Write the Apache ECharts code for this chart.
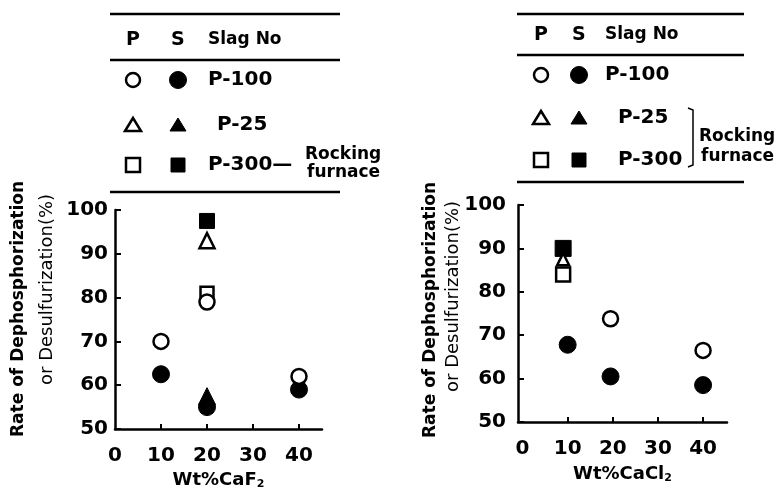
<!DOCTYPE html>
<html>
<head>
<meta charset="utf-8">
<script src="https://cdn.jsdelivr.net/npm/echarts@6/dist/echarts.min.js"></script>
<style>
  html, body { margin: 0; padding: 0; background: #fff; }
  #chart { width: 783px; height: 488px; }
</style>
</head>
<body>
<div id="chart"></div>
<script>
  // tick labels
  const xTickValues = [0, 10, 20, 30, 40];
  const xTickMarks = [10, 20, 30, 40];

  // left panel: Wt% CaF2   (P = open symbol, S = filled symbol)
  const caf2P100P = [[10, 70], [20, 79], [40, 62]];
  const caf2P100S = [[10, 62.5], [20, 55], [40, 59]];
  const caf2P25P = [[20, 93]];
  const caf2P25S = [[20, 57.5]];
  const caf2P300P = [[20, 81]];
  const caf2P300S = [[20, 97.5]];

  // right panel: Wt% CaCl2
  const cacl2P100P = [[19.5, 73.8], [40, 66.5]];
  const cacl2P100S = [[10, 67.8], [19.5, 60.5], [40, 58.5]];
  const cacl2P25P = [[9, 87.5]];
  const cacl2P300P = [[9, 84]];
  const cacl2P300S = [[9, 90]];

  const FONT = 'DejaVu Sans';
  const INK = '#000';

  const myChart = echarts.init(document.getElementById('chart'));

  const xAxisBase = (idx, min, max, nameText, nameGap) => ({
    type: 'value',
    gridIndex: idx,
    min: min,
    max: max,
    name: nameText,
    nameLocation: 'middle',
    nameGap: nameGap,
    nameTextStyle: {
      color: INK, fontFamily: FONT, fontWeight: 'bold', fontSize: 18,
      rich: { sub: { color: INK, fontFamily: FONT, fontWeight: 'bold', fontSize: 11, padding: [8, 0, 0, 0] } },
    },
    splitLine: { show: false },
    axisLine: { show: true, onZero: false, lineStyle: { color: INK, width: 2.5 } },
    axisTick: { show: true, inside: true, length: 5, customValues: xTickMarks, lineStyle: { color: INK, width: 2 } },
    axisLabel: { color: INK, fontFamily: FONT, fontWeight: 'bold', fontSize: 20, margin: 17, customValues: xTickValues },
  });

  const yAxisBase = (idx, margin) => ({
    type: 'value',
    gridIndex: idx,
    min: 50,
    max: 100,
    interval: 10,
    splitLine: { show: false },
    axisLine: { show: true, onZero: false, lineStyle: { color: INK, width: 2.5 } },
    axisTick: { show: true, inside: true, length: 6, lineStyle: { color: INK, width: 2 } },
    axisLabel: { color: INK, fontFamily: FONT, fontWeight: 'bold', fontSize: 20, margin: margin },
  });

  const openStyle = { color: '#fff', borderColor: INK, borderWidth: 2.5, opacity: 1 };
  const fillStyle = { color: INK, borderColor: INK, borderWidth: 1, opacity: 1 };

  const scatter = (idx, data, symbol, size, style) => ({
    type: 'scatter',
    xAxisIndex: idx,
    yAxisIndex: idx,
    data: data,
    symbol: symbol,
    symbolSize: size,
    itemStyle: style,
    emphasis: { disabled: true },
    silent: true,
  });

  // legend table drawn as graphic
  const legendBlock = (o) => {
    const els = [];
    const line = (y) => ({
      type: 'line',
      shape: { x1: o.x1, y1: y, x2: o.x2, y2: y },
      style: { stroke: INK, lineWidth: 2.5 },
    });
    const text = (x, y, t, size) => ({
      type: 'text',
      x: x, y: y,
      style: { text: t, fill: INK, font: `bold ${size}px "${FONT}"`, textAlign: 'left', textVerticalAlign: 'middle' },
    });
    const circle = (x, y, r, filled) => ({
      type: 'circle',
      shape: { cx: x, cy: y, r: r },
      style: { fill: filled ? INK : '#fff', stroke: INK, lineWidth: filled ? 1 : 2.5 },
    });
    const tri = (x, y, filled) => ({
      type: 'polygon',
      shape: { points: [[x, y - 7], [x + 8, y + 6], [x - 8, y + 6]] },
      style: { fill: filled ? INK : '#fff', stroke: INK, lineWidth: filled ? 1 : 2.5 },
    });
    const sq = (x, y, filled) => ({
      type: 'rect',
      shape: { x: x - 7, y: y - 7, width: 14, height: 14 },
      style: { fill: filled ? INK : '#fff', stroke: INK, lineWidth: filled ? 1 : 2.5 },
    });
    els.push(line(o.lines[0]), line(o.lines[1]), line(o.lines[2]));
    els.push(text(o.pX - 7, o.rows[0], 'P', 19), text(o.sX - 7, o.rows[0], 'S', 19), text(o.nameX, o.rows[0], 'Slag No', 17));
    els.push(circle(o.pX, o.rows[1], 7, false), circle(o.sX, o.rows[1], 8.5, true), text(o.nameX, o.rows[1], 'P-100', 20));
    els.push(tri(o.pX, o.rows[2], false), tri(o.sX, o.rows[2], true), text(o.name25X, o.rows[2], 'P-25', 20));
    els.push(sq(o.pX, o.rows[3], false), sq(o.sX, o.rows[3], true), text(o.name300X, o.rows[3], o.label300, 20));
    els.push(text(o.rockX, o.rockY[0], 'Rocking', 17), text(o.rockX + 2, o.rockY[1], 'furnace', 17));
    if (o.bracket) {
      els.push({
        type: 'polyline',
        shape: { points: o.bracket },
        style: { stroke: INK, lineWidth: 1.5, fill: null },
      });
    }
    return els;
  };

  const yName = (x1, y1, x2, y2) => [
    {
      type: 'text', x: x1, y: y1, rotation: Math.PI / 2,
      style: { text: 'Rate of Dephosphorization', fill: INK, font: `bold 17px "${FONT}"`, textAlign: 'left', textVerticalAlign: 'middle' },
    },
    {
      type: 'text', x: x2, y: y2, rotation: Math.PI / 2,
      style: { text: 'or Desulfurization(%)', fill: INK, font: `18px "${FONT}"`, textAlign: 'left', textVerticalAlign: 'middle' },
    },
  ];

  const getOption = () => ({
    backgroundColor: '#fff',
    animation: false,
    grid: [
      { left: 115, top: 210, width: 207, height: 219, containLabel: false, outerBoundsMode: 'none' },
      { left: 518, top: 205, width: 209, height: 217, containLabel: false, outerBoundsMode: 'none' },
    ],
    xAxis: [
      xAxisBase(0, 0, 45, 'Wt%CaF{sub|2}', 42),
      xAxisBase(1, -1, 45.3, 'Wt%CaCl{sub|2}', 43),
    ],
    yAxis: [yAxisBase(0, 7), yAxisBase(1, 12)],
    series: [
      scatter(0, caf2P100S, 'circle', 17, fillStyle),
      scatter(0, caf2P25S, 'triangle', 17, fillStyle),
      scatter(0, caf2P300S, 'rect', 15, fillStyle),
      scatter(0, caf2P300P, 'rect', 13, openStyle),
      scatter(0, caf2P100P, 'circle', 15, openStyle),
      scatter(0, caf2P25P, 'triangle', 15, openStyle),

      scatter(1, cacl2P100S, 'circle', 17, fillStyle),
      scatter(1, cacl2P300S, 'rect', 16, fillStyle),
      scatter(1, cacl2P25P, 'triangle', 12, openStyle),
      scatter(1, cacl2P300P, 'rect', 14, openStyle),
      scatter(1, cacl2P100P, 'circle', 15, openStyle),
    ],
    graphic: [
      ...legendBlock({
        x1: 110, x2: 340, lines: [14, 60, 192],
        pX: 133, sX: 178, nameX: 208, name25X: 217, name300X: 208,
        rows: [40, 80, 125, 165], label300: 'P-300—',
        rockX: 305, rockY: [155, 173],
      }),
      ...legendBlock({
        x1: 517, x2: 744, lines: [14, 55, 182],
        pX: 541, sX: 579, nameX: 605, name25X: 618, name300X: 618,
        rows: [35, 75, 118, 160], label300: 'P-300',
        rockX: 699, rockY: [137, 157],
        bracket: [[688, 108], [693, 110], [693, 165], [688, 167]],
      }),
      ...yName(19, 437, 47, 385),
      ...yName(431, 438, 453, 392),
    ],
  });

  myChart.setOption(getOption());
</script>
</body>
</html>
